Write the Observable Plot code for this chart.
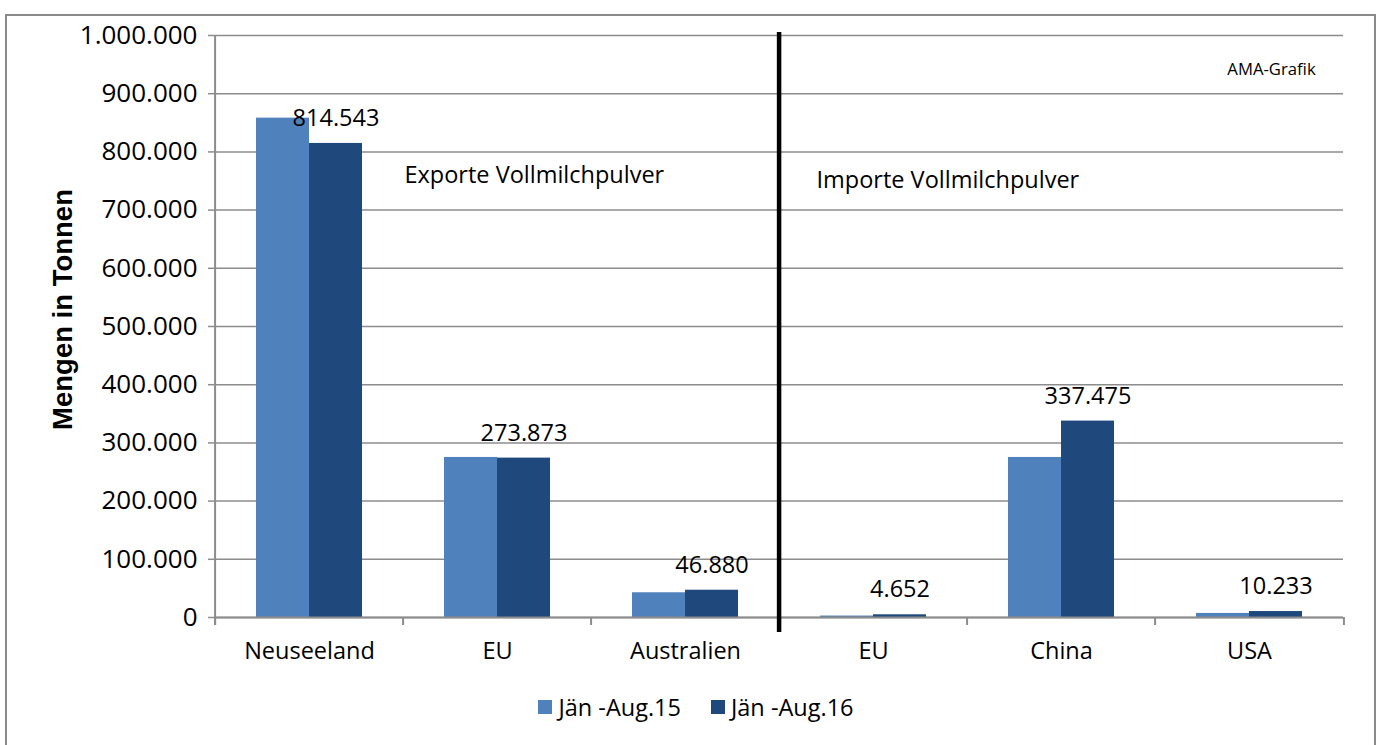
<!DOCTYPE html>
<html><head><meta charset="utf-8">
<script src="https://cdn.jsdelivr.net/npm/d3@7"></script>
<script src="https://cdn.jsdelivr.net/npm/@observablehq/plot@0.6"></script>
<style>
body{margin:0;background:#fff;}
#wrap{position:relative;width:1380px;height:745px;overflow:hidden;font-family:"Open Sans",sans-serif;background:#fff;}
#border{position:absolute;left:5px;top:14px;width:1371px;height:740px;border:2px solid #8a8a8a;border-bottom:none;box-sizing:border-box;pointer-events:none}
#chart{position:absolute;left:0;top:0}
#legend{position:absolute;left:6px;top:690px;width:1380px;display:flex;justify-content:center;gap:30px;font-size:23.5px;line-height:34px;color:#000}
#legend .item{display:flex;align-items:center;gap:6px}
#legend .sw{width:14px;height:14px;display:inline-block}
</style></head>
<body><div id="wrap"><div id="chart"></div><div id="legend"></div><div id="border"></div></div>
<script>
const groupKeys = ["Neuseeland", "EU (Exporte)", "Australien", "EU (Importe)", "China", "USA"];
const groupLabels = ["Neuseeland", "EU", "Australien", "EU", "China", "USA"];
const series = ["Jän -Aug.15", "Jän -Aug.16"];
const values15 = [858000, 275000, 42500, 2500, 275000, 7000];
const values16 = [814543, 273873, 46880, 4652, 337475, 10233];
const yTicks = [0, 100000, 200000, 300000, 400000, 500000, 600000, 700000, 800000, 900000, 1000000];
const colors = ["#4F81BD", "#1F497D"];

const W = 1380, H = 680, ML = 212, MR = 35, MT = 35, MB = 63;
const bw = (W - ML - MR) / groupKeys.length;
const de = d3.formatLocale({decimal: ",", thousands: ".", grouping: [3], currency: ["", "€"]});
const fmt = de.format(",d");
const rows = groupKeys.flatMap((k, i) => [
  {key: k, series: series[0], value: values15[i]},
  {key: k, series: series[1], value: values16[i]}
]);
const grid = "#8c8c8c";

const chart = Plot.plot({
  width: W, height: H, marginLeft: ML, marginRight: MR, marginTop: MT, marginBottom: MB,
  style: {fontFamily: "'Open Sans', sans-serif", fontSize: "23.5px", color: "#000", background: "transparent", overflow: "visible"},
  fx: {domain: groupKeys, padding: 0, axis: null},
  x: {domain: series, paddingInner: 0, paddingOuter: 0.768, axis: null},
  y: {domain: [0, 1000000], axis: null},
  color: {domain: series, range: colors},
  marks: [
    Plot.ruleY(yTicks, {stroke: grid, strokeWidth: 1.5}),
    Plot.barY(rows, {fx: "key", x: "series", y: "value", fill: "series"}),
    Plot.ruleY([0], {stroke: grid, strokeWidth: 2}),
    Plot.ruleX(groupKeys, {fx: d => d, x: null, y1: 0, y2: 0, insetBottom: -8, dx: -bw / 2, stroke: grid, strokeWidth: 2}),
    Plot.ruleX(["USA"], {fx: d => d, x: null, y1: 0, y2: 0, insetBottom: -8, dx: bw / 2, stroke: grid, strokeWidth: 2}),
    Plot.ruleX(["Neuseeland"], {fx: d => d, x: null, y1: 1000000, y2: 0, insetBottom: -8, dx: -bw / 2, stroke: grid, strokeWidth: 2}),
    Plot.axisY({ticks: yTicks, tickFormat: fmt, tickSize: 7, tickPadding: 11, stroke: grid, strokeWidth: 1.5, fontSize: 26, label: null}),
    Plot.axisFx({anchor: "bottom", tickSize: 0, tickPadding: 25, tickFormat: k => groupLabels[groupKeys.indexOf(k)], label: null, fontSize: 23.5}),
    Plot.text(rows.filter(d => d.series === series[1]), {fx: "key", x: "series", y: "value", text: d => fmt(d.value), dy: -25, fontSize: 23.5, fill: "#000"}),
    Plot.text(["Exporte Vollmilchpulver"], {fx: ["EU (Exporte)"], y: 759500, frameAnchor: "left", textAnchor: "start", dx: 1, fontSize: 23.5, fill: "#000"}),
    Plot.text(["Importe Vollmilchpulver"], {fx: ["EU (Importe)"], y: 751000, frameAnchor: "left", textAnchor: "start", dx: 37, fontSize: 23.5, fill: "#000"}),
    Plot.text(["AMA-Grafik"], {fx: ["USA"], y: 941600, frameAnchor: "middle", dx: 22, fontSize: 16.7, fill: "#000"}),
    Plot.text(["Mengen in Tonnen"], {fx: ["Neuseeland"], frameAnchor: "left", textAnchor: "middle", rotate: -90, dx: -152, dy: -17, fontWeight: "bold", fontFamily: "'Liberation Sans', Arial, sans-serif", fontSize: 27.5, fill: "#000"}),
    Plot.ruleX(["EU (Importe)"], {fx: d => d, x: null, y1: 1000000, y2: 0, insetTop: -3, insetBottom: -15, dx: -bw / 2, stroke: "#000", strokeWidth: 4.5})
  ]
});
document.getElementById("chart").appendChild(chart);

const legend = document.getElementById("legend");
series.forEach((s, i) => {
  const item = document.createElement("div");
  item.className = "item";
  const sw = document.createElement("span");
  sw.className = "sw";
  sw.style.background = colors[i];
  const t = document.createElement("span");
  t.textContent = s;
  item.appendChild(sw);
  item.appendChild(t);
  legend.appendChild(item);
});
</script>
</body></html>
